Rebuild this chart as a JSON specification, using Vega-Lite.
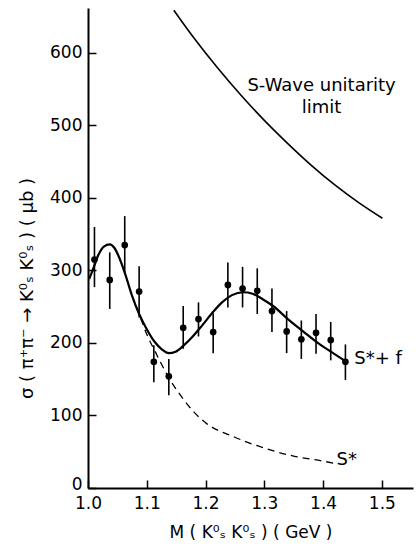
{
  "$schema": "https://vega.github.io/schema/vega-lite/v6.json",
  "width": 325,
  "height": 480,
  "autosize": "none",
  "padding": {"left": 88, "top": 8, "right": 3, "bottom": 64},
  "background": "white",
  "config": {
    "view": {"stroke": null},
    "font": "DejaVu Sans",
    "axis": {
      "domainColor": "black",
      "domainWidth": 2,
      "tickColor": "black",
      "tickWidth": 1.5,
      "tickSize": -8,
      "labelColor": "black",
      "labelFontSize": 17,
      "labelFont": "DejaVu Sans",
      "labelFlush": false,
      "titleColor": "black",
      "titleFont": "DejaVu Sans",
      "titleFontWeight": "normal",
      "titleFontSize": 17,
      "grid": false
    }
  },
  "datasets": {
    "points": [
      {"m": 1.011, "s": 315, "lo": 277, "hi": 360},
      {"m": 1.037, "s": 287, "lo": 247, "hi": 325},
      {"m": 1.0625, "s": 335, "lo": 295, "hi": 375},
      {"m": 1.087, "s": 271, "lo": 235, "hi": 306},
      {"m": 1.112, "s": 174, "lo": 146, "hi": 197},
      {"m": 1.1375, "s": 154, "lo": 128, "hi": 178},
      {"m": 1.162, "s": 221, "lo": 192, "hi": 251},
      {"m": 1.188, "s": 233, "lo": 209, "hi": 256},
      {"m": 1.213, "s": 215, "lo": 186, "hi": 241},
      {"m": 1.238, "s": 280, "lo": 249, "hi": 311},
      {"m": 1.263, "s": 275, "lo": 249, "hi": 305},
      {"m": 1.288, "s": 272, "lo": 240, "hi": 303},
      {"m": 1.313, "s": 244, "lo": 215, "hi": 275},
      {"m": 1.338, "s": 216, "lo": 186, "hi": 244},
      {"m": 1.363, "s": 205, "lo": 178, "hi": 231},
      {"m": 1.388, "s": 214, "lo": 185, "hi": 240},
      {"m": 1.413, "s": 204, "lo": 176, "hi": 229},
      {"m": 1.438, "s": 174, "lo": 149, "hi": 198}
    ],
    "fit": [
      {"m": 1.002, "s": 288}, {"m": 1.01, "s": 305}, {"m": 1.018, "s": 322},
      {"m": 1.027, "s": 333}, {"m": 1.037, "s": 336}, {"m": 1.045, "s": 331},
      {"m": 1.052, "s": 320}, {"m": 1.0625, "s": 297}, {"m": 1.075, "s": 265},
      {"m": 1.087, "s": 240}, {"m": 1.1, "s": 219}, {"m": 1.113, "s": 202},
      {"m": 1.126, "s": 191}, {"m": 1.1375, "s": 186}, {"m": 1.149, "s": 188},
      {"m": 1.162, "s": 196}, {"m": 1.177, "s": 208}, {"m": 1.194, "s": 224},
      {"m": 1.213, "s": 243}, {"m": 1.228, "s": 256}, {"m": 1.245, "s": 266},
      {"m": 1.264, "s": 270}, {"m": 1.28, "s": 268}, {"m": 1.3, "s": 259},
      {"m": 1.315, "s": 251}, {"m": 1.34, "s": 233}, {"m": 1.366, "s": 216},
      {"m": 1.391, "s": 200}, {"m": 1.417, "s": 186}, {"m": 1.438, "s": 175}
    ],
    "sstar": [
      {"m": 1.075, "s": 265}, {"m": 1.087, "s": 240}, {"m": 1.1, "s": 212},
      {"m": 1.115, "s": 187}, {"m": 1.1375, "s": 152}, {"m": 1.16, "s": 125},
      {"m": 1.18, "s": 105}, {"m": 1.2, "s": 90}, {"m": 1.25, "s": 70},
      {"m": 1.3, "s": 55}, {"m": 1.35, "s": 44}, {"m": 1.4, "s": 37},
      {"m": 1.42, "s": 34}
    ],
    "unitarity": [
      {"m": 1.146, "s": 659}, {"m": 1.18, "s": 621}, {"m": 1.22, "s": 580},
      {"m": 1.26, "s": 542}, {"m": 1.3, "s": 507}, {"m": 1.34, "s": 475},
      {"m": 1.38, "s": 445}, {"m": 1.42, "s": 418}, {"m": 1.46, "s": 394},
      {"m": 1.501, "s": 372}
    ],
    "clabels": [
      {"m": 1.3975, "s": 555, "t": "S-Wave unitarity"},
      {"m": 1.3975, "s": 524, "t": "limit"}
    ],
    "llabels": [
      {"m": 1.453, "s": 178, "t": "S*+ f"},
      {"m": 1.423, "s": 38, "t": "S*"}
    ]
  },
  "layer": [
    {
      "data": {"name": "unitarity"},
      "mark": {"type": "line", "color": "black", "strokeWidth": 1.6, "interpolate": "natural"},
      "encoding": {
        "x": {
          "field": "m", "type": "quantitative",
          "scale": {"domain": [1.0, 1.553], "nice": false, "zero": false},
          "axis": {
            "values": [1.0, 1.1, 1.2, 1.3, 1.4, 1.5],
            "format": ".1f",
            "labelPadding": 15,
            "title": "M ( K⁰ₛ K⁰ₛ )   ( GeV )",
            "titlePadding": 13
          }
        },
        "y": {
          "field": "s", "type": "quantitative",
          "scale": {"domain": [0, 662], "nice": false},
          "axis": {
            "values": [0, 100, 200, 300, 400, 500, 600],
            "labelPadding": 14,
            "labelOffset": {"condition": {"test": "datum.value === 0", "value": -4}, "value": 0},
            "title": "σ ( π⁺π⁻ → K⁰ₛ K⁰ₛ )  ( μb )",
            "titleFontSize": 18,
            "titleY": 280,
            "titlePadding": 13
          }
        }
      }
    },
    {
      "data": {"name": "sstar"},
      "mark": {"type": "line", "color": "black", "strokeWidth": 1.3, "strokeDash": [7, 5], "interpolate": "monotone"},
      "encoding": {
        "x": {"field": "m", "type": "quantitative"},
        "y": {"field": "s", "type": "quantitative"}
      }
    },
    {
      "data": {"name": "fit"},
      "mark": {"type": "line", "color": "black", "strokeWidth": 2.2, "interpolate": "monotone"},
      "encoding": {
        "x": {"field": "m", "type": "quantitative"},
        "y": {"field": "s", "type": "quantitative"}
      }
    },
    {
      "data": {"name": "points"},
      "mark": {"type": "rule", "color": "black", "strokeWidth": 1.6},
      "encoding": {
        "x": {"field": "m", "type": "quantitative"},
        "y": {"field": "lo", "type": "quantitative"},
        "y2": {"field": "hi"}
      }
    },
    {
      "data": {"name": "points"},
      "mark": {"type": "circle", "color": "black", "opacity": 1, "size": 45},
      "encoding": {
        "x": {"field": "m", "type": "quantitative"},
        "y": {"field": "s", "type": "quantitative"}
      }
    },
    {
      "data": {"name": "clabels"},
      "mark": {"type": "text", "color": "black", "fontSize": 18, "baseline": "middle", "align": "center", "font": "DejaVu Sans"},
      "encoding": {
        "x": {"field": "m", "type": "quantitative"},
        "y": {"field": "s", "type": "quantitative"},
        "text": {"field": "t"}
      }
    },
    {
      "data": {"name": "llabels"},
      "mark": {"type": "text", "color": "black", "fontSize": 18, "baseline": "middle", "align": "left", "font": "DejaVu Sans"},
      "encoding": {
        "x": {"field": "m", "type": "quantitative"},
        "y": {"field": "s", "type": "quantitative"},
        "text": {"field": "t"}
      }
    }
  ]
}
